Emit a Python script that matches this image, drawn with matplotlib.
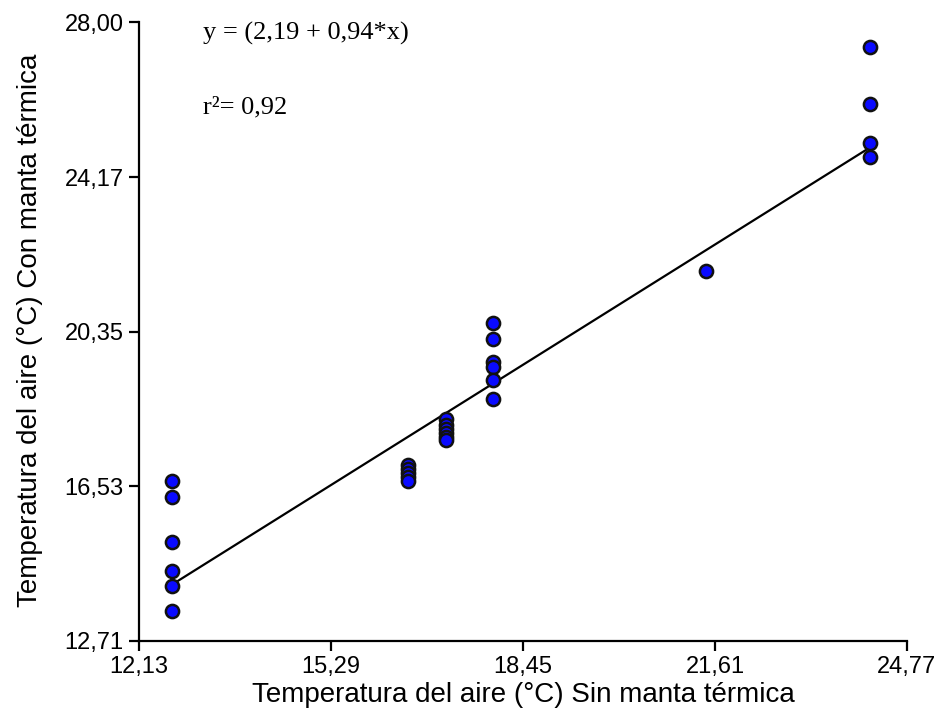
import matplotlib
matplotlib.use("Agg")
import matplotlib.pyplot as plt
import numpy as np

# Data
x_groups = [12.67, 16.56, 17.18, 17.96, 21.46, 24.16]
y_groups = [
    [16.66, 16.27, 15.15, 14.44, 14.07, 13.45],
    [17.06, 16.96, 16.86, 16.76, 16.66],
    [18.19, 18.05, 17.95, 17.85, 17.75, 17.67],
    [20.56, 20.17, 19.60, 19.48, 19.16, 18.69],
    [21.86],
    [27.38, 25.97, 25.01, 24.67],
]
intercept = 2.19
slope = 0.94
x_ticks = [12.13, 15.29, 18.45, 21.61, 24.77]
y_ticks = [12.71, 16.53, 20.35, 24.17, 28.00]
eq_text = "y = (2,19 + 0,94*x)"
r2_text = "r²= 0,92"
x_label = "Temperatura del aire (°C) Sin manta térmica"
y_label = "Temperatura del aire (°C) Con manta térmica"

xs = np.concatenate([[xv] * len(ys) for xv, ys in zip(x_groups, y_groups)])
ys = np.concatenate(y_groups)

W, H = 940, 724
fig = plt.figure(figsize=(W / 100, H / 100), dpi=100)
ax = fig.add_axes([139 / W, 1 - 641 / H, 768 / W, 619 / H])

fit_x = np.array([min(x_groups), max(x_groups)])
ax.plot(fit_x, intercept + slope * fit_x, color="black", lw=1.6, zorder=2)
ax.plot(xs, ys, linestyle="none", marker="o", markersize=9.5,
        markerfacecolor="#0a0aff", markeredgecolor="#111111",
        markeredgewidth=1.8, zorder=3)

ax.set_xlim(x_ticks[0], x_ticks[-1])
ax.set_ylim(y_ticks[0], y_ticks[-1])
ax.set_xticks(x_ticks)
ax.set_yticks(y_ticks)
fmt = lambda v: f"{v:.2f}".replace(".", ",")
ax.set_xticklabels([fmt(v) for v in x_ticks])
ax.set_yticklabels([fmt(v) for v in y_ticks])

for s in ["top", "right"]:
    ax.spines[s].set_visible(False)
for s in ["left", "bottom"]:
    ax.spines[s].set_linewidth(1.6)
ax.tick_params(direction="out", length=7, width=1.6, labelsize=17,
               pad=4, colors="black")
for lab in ax.get_xticklabels() + ax.get_yticklabels():
    lab.set_family("Liberation Sans")

ax.set_xlabel(x_label, fontsize=20, family="Liberation Sans")
ax.set_ylabel(y_label, fontsize=20, family="Liberation Sans")
ax.xaxis.set_label_coords(0.5, (641 - 695) / 619 + 0, transform=None) if False else None
ax.xaxis.label.set_va("center")
ax.yaxis.label.set_va("center")
ax.xaxis.set_label_coords((523 - 139) / 768, -(695 - 641) / 619)
ax.yaxis.set_label_coords(-(139 - 30) / 768, (641 - 330) / 619)

fig.text(203 / W, 1 - 33 / H, eq_text, fontsize=19, family="Liberation Serif",
         va="center", ha="left")
fig.text(203 / W, 1 - 107 / H, r2_text, fontsize=19, family="Liberation Serif",
         va="center", ha="left")

fig.savefig("out.png", dpi=100)
